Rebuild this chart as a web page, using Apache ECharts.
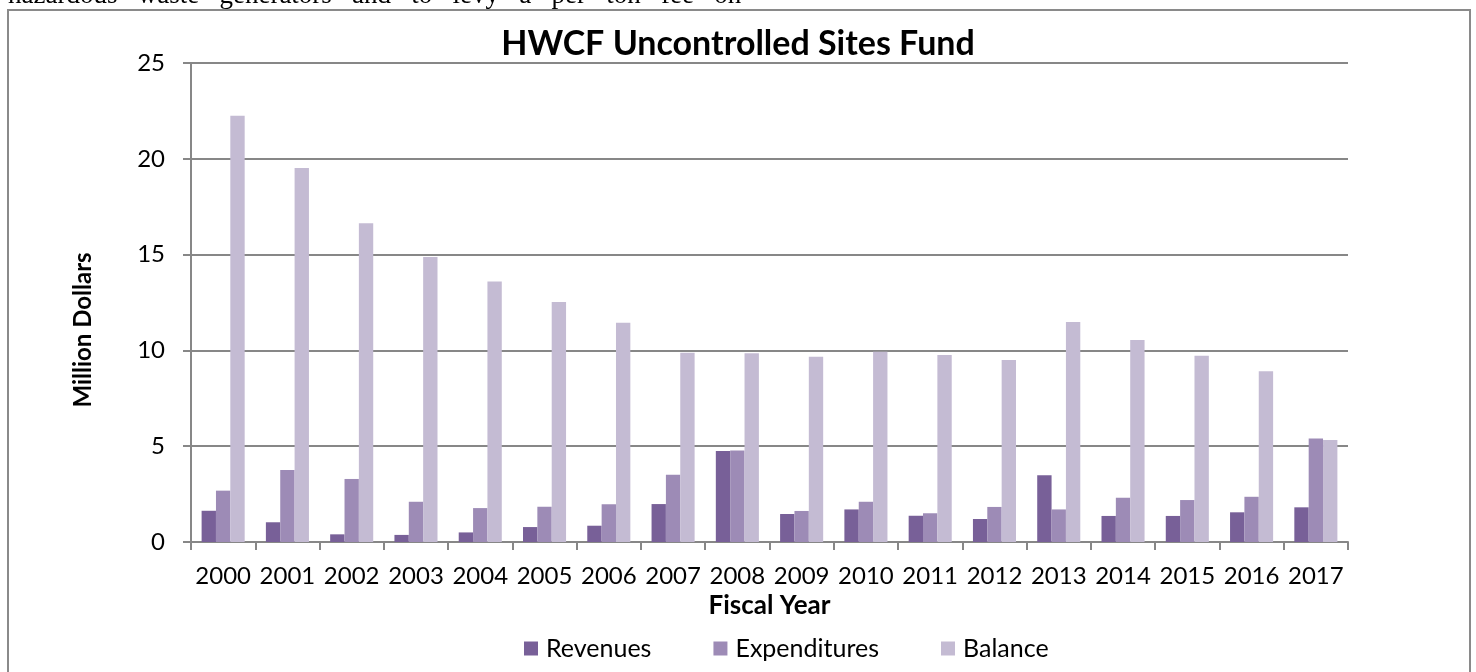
<!DOCTYPE html>
<html>
<head>
<meta charset="utf-8">
<title>HWCF Uncontrolled Sites Fund</title>
<script src="https://cdn.jsdelivr.net/npm/echarts@6/dist/echarts.min.js"></script>
<style>
  html, body {
    margin: 0;
    padding: 0;
    background: #fff;
  }
  #chart {
    width: 1476px;
    height: 672px;
  }
</style>
</head>
<body>
<div id="chart"></div>
<script>
// fiscal years on the x axis
const years = ['2000', '2001', '2002', '2003', '2004', '2005', '2006', '2007', '2008',
  '2009', '2010', '2011', '2012', '2013', '2014', '2015', '2016', '2017']

// million dollars
const revenues = [1.63, 1.03, 0.40, 0.37, 0.50, 0.78, 0.85, 1.98, 4.75,
  1.46, 1.70, 1.37, 1.20, 3.48, 1.36, 1.36, 1.55, 1.81]
const expenditures = [2.68, 3.76, 3.29, 2.10, 1.77, 1.84, 1.97, 3.51, 4.78,
  1.62, 2.10, 1.50, 1.83, 1.70, 2.31, 2.19, 2.36, 5.40]
const balance = [22.25, 19.52, 16.63, 14.87, 13.60, 12.53, 11.44, 9.88, 9.85,
  9.67, 9.93, 9.76, 9.50, 11.48, 10.54, 9.72, 8.91, 5.32]

const seriesNames = ['Revenues', 'Expenditures', 'Balance']
const colors = ['#786098', '#9d8bb6', '#c4bbd3']

const font = 'Lato, "Open Sans", sans-serif'
const gridColor = '#878787'

const chart = echarts.init(document.getElementById('chart'))

chart.setOption({
  animation: false,
  textStyle: { fontFamily: font, color: '#000' },
  title: {
    text: 'HWCF Uncontrolled Sites Fund',
    left: 'center',
    top: 22,
    textStyle: { fontFamily: font, fontSize: 34, fontWeight: 'bold', color: '#000' }
  },
  legend: {
    data: seriesNames,
    bottom: 6,
    left: 519,
    itemWidth: 14,
    itemHeight: 14,
    itemGap: 62,
    icon: 'rect',
    textStyle: { fontFamily: font, fontSize: 25, color: '#000', padding: [0, 0, 0, 3] }
  },
  grid: {
    left: 191,
    right: 128,
    top: 63,
    bottom: 130
  },
  xAxis: {
    type: 'category',
    data: years,
    name: 'Fiscal Year',
    nameLocation: 'middle',
    nameGap: 50,
    nameTextStyle: { fontFamily: font, fontSize: 26, fontWeight: 'bold', color: '#000' },
    axisLine: { lineStyle: { color: gridColor, width: 2 } },
    axisTick: { show: true, length: 8, lineStyle: { color: gridColor, width: 2 } },
    axisLabel: { interval: 0, fontFamily: font, fontSize: 24, color: '#000', margin: 22 }
  },
  yAxis: {
    type: 'value',
    min: 0,
    max: 25,
    interval: 5,
    axisLine: { show: true, lineStyle: { color: gridColor, width: 2 } },
    axisTick: { show: true, length: 8, lineStyle: { color: gridColor, width: 2 } },
    axisLabel: { fontFamily: font, fontSize: 24, color: '#000', margin: 26 },
    splitLine: { lineStyle: { color: gridColor, width: 2 } }
  },
  graphic: [
    {
      // outer chart frame
      type: 'rect',
      shape: { x: 8, y: 10, width: 1462, height: 700 },
      style: { fill: null, stroke: '#8a8a8a', lineWidth: 2 },
      silent: true
    },
    {
      // line of document text cut off above the chart
      type: 'text',
      x: 8,
      y: 9,
      style: {
        text: 'hazardous   waste   generators   and   to   levy   a   per   ton   fee   on',
        font: '27px "Liberation Serif", serif',
        fill: '#000',
        verticalAlign: 'bottom'
      },
      silent: true
    },
    {
      type: 'text',
      x: 83,
      y: 330,
      rotation: Math.PI / 2,
      style: {
        text: 'Million Dollars',
        font: 'bold 24px ' + font,
        fill: '#000',
        align: 'center',
        verticalAlign: 'middle'
      },
      silent: true
    }
  ],
  series: [
    { name: seriesNames[0], type: 'bar', data: revenues, itemStyle: { color: colors[0] }, barGap: '0%', barCategoryGap: '33%' },
    { name: seriesNames[1], type: 'bar', data: expenditures, itemStyle: { color: colors[1] }, barGap: '0%', barCategoryGap: '33%' },
    { name: seriesNames[2], type: 'bar', data: balance, itemStyle: { color: colors[2] }, barGap: '0%', barCategoryGap: '33%' }
  ]
})
</script>
</body>
</html>
